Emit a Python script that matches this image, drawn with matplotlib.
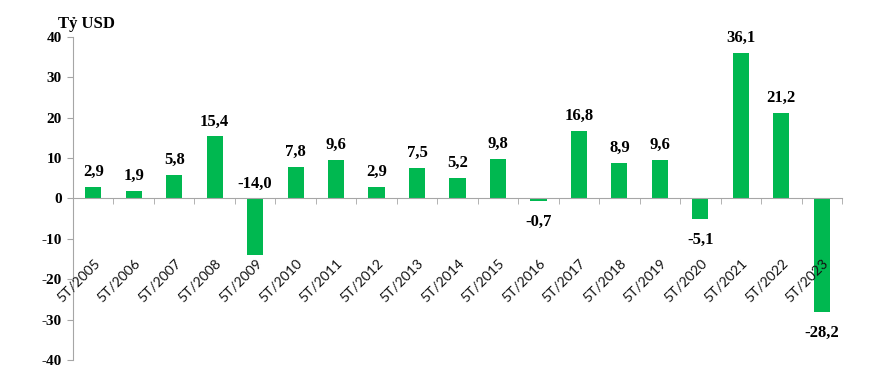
import matplotlib
matplotlib.use("Agg")
import matplotlib.pyplot as plt
import numpy as np

categories = ["5T/2005", "5T/2006", "5T/2007", "5T/2008", "5T/2009", "5T/2010",
              "5T/2011", "5T/2012", "5T/2013", "5T/2014", "5T/2015", "5T/2016",
              "5T/2017", "5T/2018", "5T/2019", "5T/2020", "5T/2021", "5T/2022",
              "5T/2023"]
values = [2.9, 1.9, 5.8, 15.4, -14.0, 7.8, 9.6, 2.9, 7.5, 5.2, 9.8, -0.7,
          16.8, 8.9, 9.6, -5.1, 36.1, 21.2, -28.2]
value_labels = ["2,9", "1,9", "5,8", "15,4", "-14,0", "7,8", "9,6", "2,9", "7,5",
                "5,2", "9,8", "-0,7", "16,8", "8,9", "9,6", "-5,1", "36,1",
                "21,2", "-28,2"]
y_ticks = [-40, -30, -20, -10, 0, 10, 20, 30, 40]
unit_label = "Tỷ USD"

# labels shown above the zero line despite negative value (as in the source)
label_above_axis = {"5T/2009"}

GREEN = "#00B850"
GRAY = "#A6A6A6"
SERIF = "Liberation Serif"

fig = plt.figure(figsize=(8.7, 3.8), dpi=100)
ax = fig.add_axes([73 / 870, 1 - 360 / 380, (842 - 73) / 870, (360 - 37) / 380])

x = np.arange(len(categories))
ax.bar(x, values, width=0.4, color=GREEN, zorder=2)

ax.set_xlim(-0.5, len(categories) - 0.5)
ax.set_ylim(-40, 40)
ax.set_axisbelow(False)

for s in ["top", "right"]:
    ax.spines[s].set_visible(False)
ax.spines["bottom"].set_position(("data", 0))
ax.spines["bottom"].set_color(GRAY)
ax.spines["left"].set_color(GRAY)
ax.spines["bottom"].set_zorder(3)

# y axis
ax.set_yticks(y_ticks)
ax.set_yticklabels([str(t) for t in y_ticks], fontfamily=SERIF,
                   fontweight="bold", fontsize=11)
ax.tick_params(axis="y", direction="out", length=4, color=GRAY, pad=4)

# x axis: labels at centers, tick marks at boundaries
ax.set_xticks(x)
ax.set_xticklabels(categories, rotation=45, ha="right", va="top",
                   rotation_mode="anchor", fontfamily="Lato", fontsize=10,
                   color="#111111")
ax.set_xticks(np.arange(len(categories) + 1) - 0.5, minor=True)
ax.tick_params(axis="x", which="major", length=0, pad=42)
ax.tick_params(axis="x", which="minor", direction="out", length=4, color=GRAY)

# value labels
for xi, v, txt, cat in zip(x, values, value_labels, categories):
    if v >= 0 or cat in label_above_axis:
        base = v if v >= 0 else 0
        ax.annotate(txt, xy=(xi, base), xytext=(0, 5), textcoords="offset points",
                    ha="center", va="bottom", fontfamily=SERIF,
                    fontweight="bold", fontsize=12)
    else:
        ax.annotate(txt, xy=(xi, v), xytext=(0, -9), textcoords="offset points",
                    ha="center", va="top", fontfamily=SERIF,
                    fontweight="bold", fontsize=12)

fig.text(58 / 870, 1 - 28 / 380, unit_label, fontfamily=SERIF, fontweight="bold",
         fontsize=12, va="baseline", ha="left")

fig.savefig("out.png", dpi=100)
